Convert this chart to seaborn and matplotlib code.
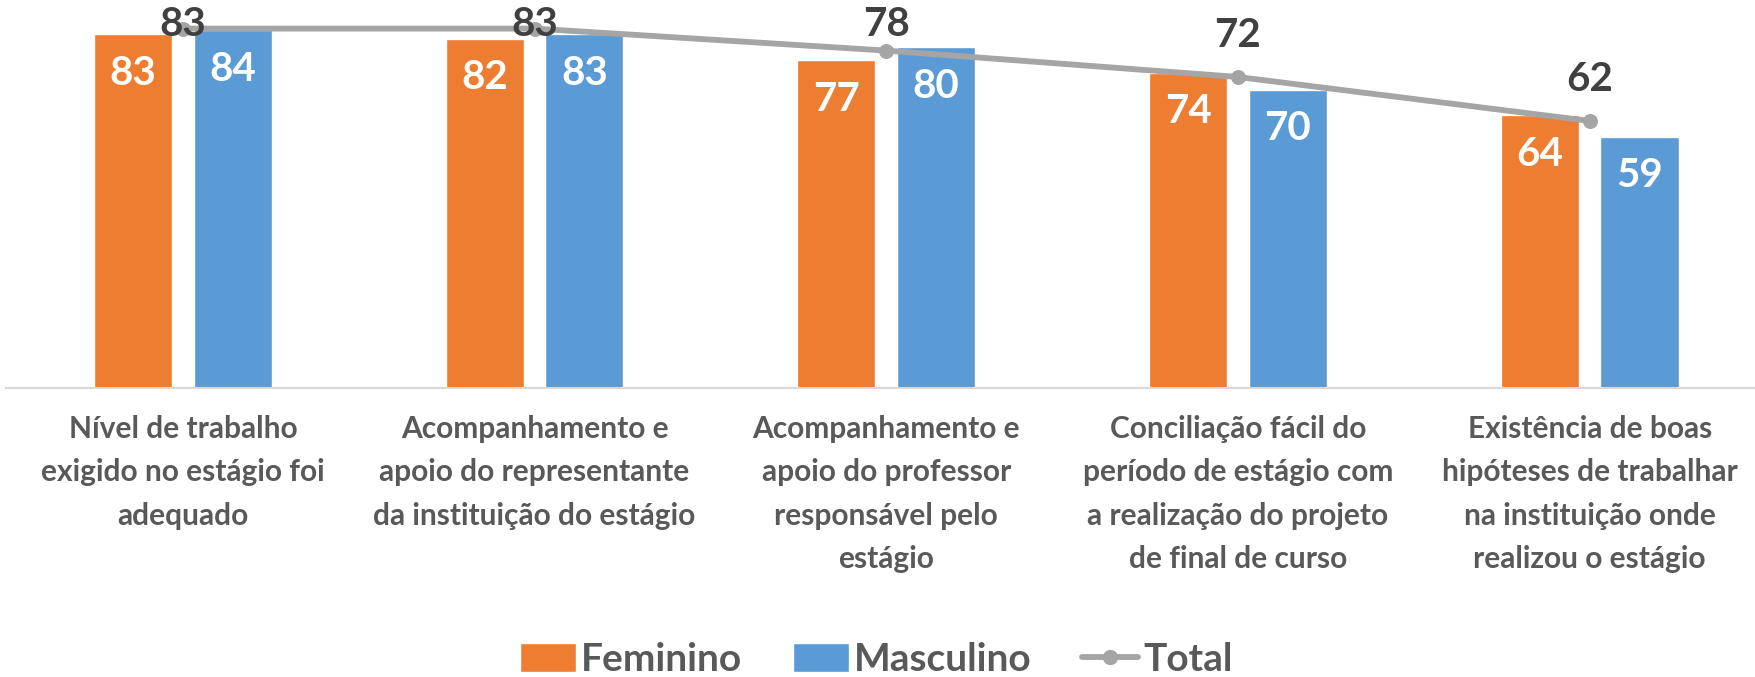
import numpy as np
import pandas as pd
import seaborn as sns
import matplotlib.pyplot as plt
from matplotlib.patches import Patch
from matplotlib.lines import Line2D

categorias = [
    "Nível de trabalho\nexigido no estágio foi\nadequado",
    "Acompanhamento e\napoio do representante\nda instituição do estágio",
    "Acompanhamento e\napoio do professor\nresponsável pelo\nestágio",
    "Conciliação fácil do\nperíodo de estágio com\na realização do projeto\nde final de curso",
    "Existência de boas\nhipóteses de trabalhar\nna instituição onde\nrealizou o estágio",
]
feminino = [83, 82, 77, 74, 64]
masculino = [84, 83, 80, 70, 59]
total = [83, 83, 78, 72, 62]

cor_fem = "#ED7D31"
cor_masc = "#5B9BD5"
cor_total = "#A5A5A5"
cinza_texto = "#595959"

df = pd.DataFrame({
    "categoria": categorias * 2,
    "valor": feminino + masculino,
    "sexo": ["Feminino"] * 5 + ["Masculino"] * 5,
})

sns.set_style("white")
plt.rcParams['font.family'] = ['Lato', 'DejaVu Sans']
plt.rcParams['font.weight'] = 'bold'

fig = plt.figure(figsize=(17.56, 6.77), dpi=100)
ax = fig.add_axes([6 / 1756, 0.4276, 1750 / 1756, 0.5724])

sns.barplot(data=df, x="categoria", y="valor", hue="sexo",
            palette=[cor_fem, cor_masc], saturation=1,
            width=0.567, gap=0.217, legend=False, ax=ax)

# rótulos brancos dentro das barras
for cont in ax.containers:
    for p in cont.patches:
        h = p.get_height()
        ax.text(p.get_x() + p.get_width() / 2, h - 9.2, f"{h:.0f}",
                ha="center", va="center", color="white",
                fontsize=29, fontweight="bold")

ax.set_ylim(0, 91.1)
ax.set_xlim(-0.503, 4.473)
ax.set_xlabel("")
ax.set_ylabel("")
ax.set_yticks([])
ax.tick_params(axis="x", length=0, pad=20, labelsize=21.5, labelcolor=cinza_texto)
for lbl in ax.get_xticklabels():
    lbl.set_fontweight("bold")
    lbl.set_linespacing(1.66)
for s in ["top", "left", "right"]:
    ax.spines[s].set_visible(False)
ax.spines["bottom"].set_color("#D9D9D9")
ax.spines["bottom"].set_linewidth(1.5)

# linha do total (eixo secundário)
ax2 = ax.twinx()
sns.lineplot(x=np.arange(len(total)), y=total, ax=ax2, color=cor_total,
             linewidth=4.2, marker="o", markersize=10,
             markeredgecolor=cor_total)
ax2.set_ylim(1.4, 89.5)
ax2.set_xlim(-0.503, 4.473)
ax2.set_yticks([])
ax2.set_ylabel("")
for s in ax2.spines.values():
    s.set_visible(False)

for i, v in enumerate(total):
    ax2.text(i, min(v + 9.5, 83.9), str(v), ha="center", va="center",
             color="#404040", fontsize=29, fontweight="bold")

handles = [
    Patch(facecolor=cor_fem, label="Feminino"),
    Patch(facecolor=cor_masc, label="Masculino"),
    Line2D([0], [0], color=cor_total, linewidth=4.2, marker="o",
           markersize=10, label="Total"),
]
fig.legend(handles=handles, loc="center", bbox_to_anchor=(0.499, 0.026),
           ncol=3, frameon=False, fontsize=28, labelcolor=cinza_texto,
           handlelength=1.45, handleheight=0.75, handletextpad=0.12,
           columnspacing=1.3)

plt.savefig("out.png", dpi=100)
